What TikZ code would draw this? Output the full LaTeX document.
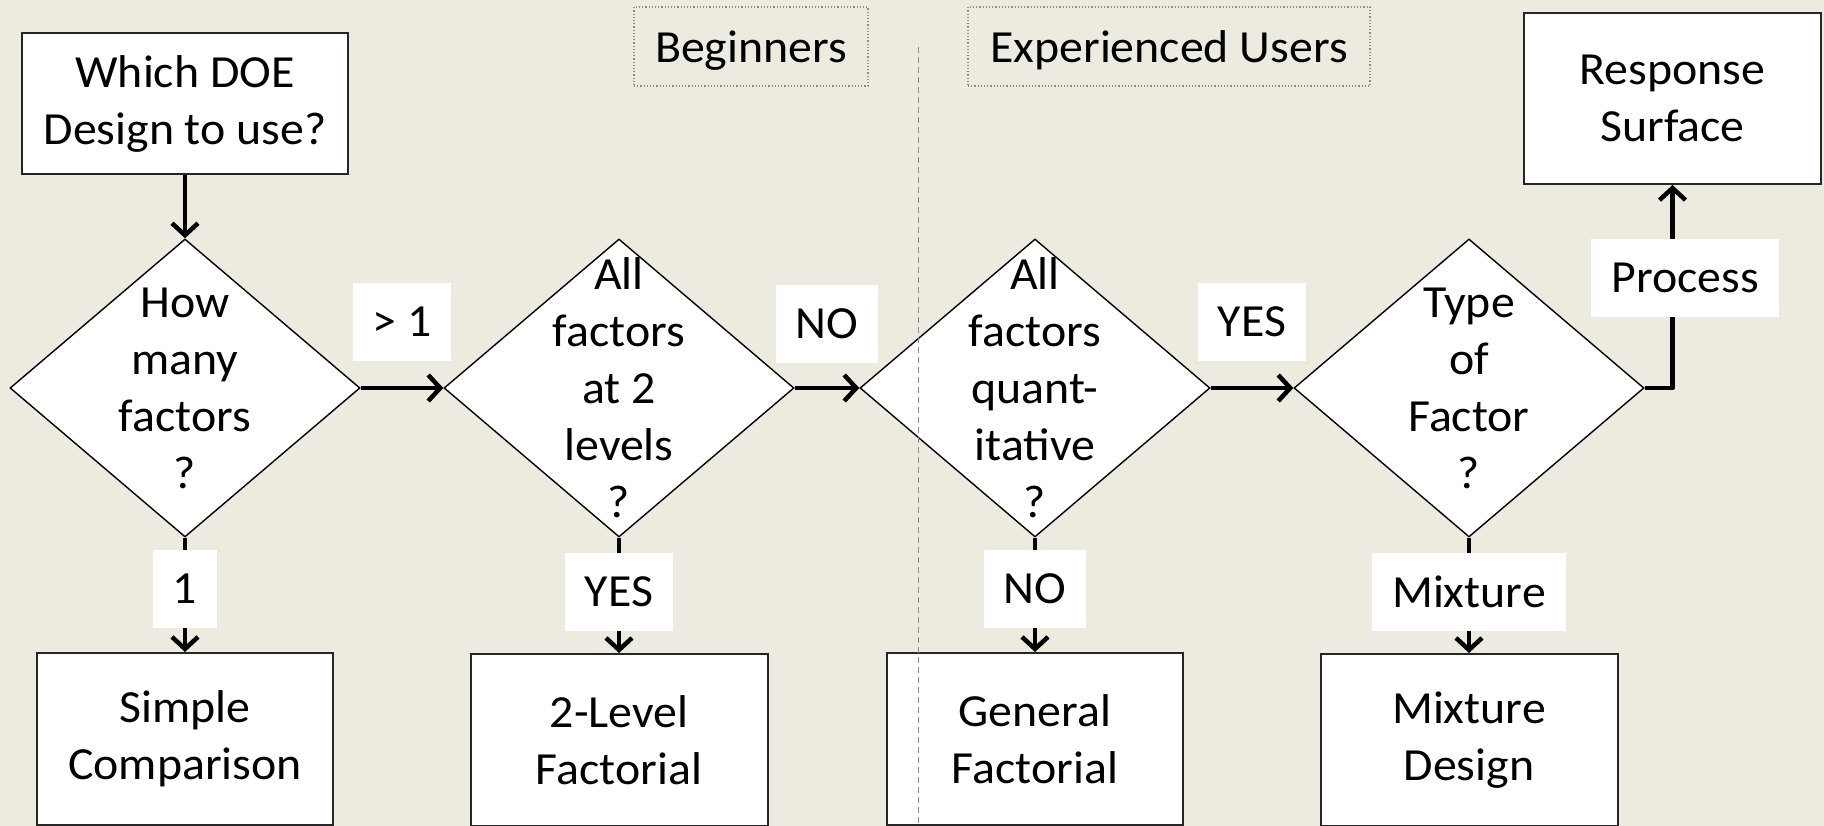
\documentclass[tikz,border=0pt]{standalone}
\usepackage{fontspec}
\setmainfont[FakeStretch=1.04]{Carlito}
\usetikzlibrary{shapes.geometric,arrows.meta}
\definecolor{paper}{RGB}{237,234,223}
\definecolor{rule}{RGB}{140,140,140}
\begin{document}
\begin{tikzpicture}[x=1pt,y=-1pt,
  every node/.style={font=\fontsize{46}{57}\selectfont},
  box/.style={draw=black!85,line width=2pt,fill=white,inner sep=0pt,align=center},
  decision/.style={diamond,draw=black,line width=1.4pt,fill=white,inner sep=0pt,
    minimum width=350pt,minimum height=298pt},
  dtext/.style={align=center,inner sep=0pt},
  lab/.style={fill=white,inner xsep=20pt,inner ysep=0pt,minimum height=78pt},
  group/.style={draw=rule,dotted,line width=1.2pt,minimum height=79pt,text depth=0pt},
  arr/.style={line width=4.5pt,line join=round,-{Straight Barb[length=12pt,width=26pt]}}]

% canvas
\fill[paper] (0,0) rectangle (1824,826);
\useasboundingbox (0,0) rectangle (1824,826);

% audience headings
\node[group,minimum width=234pt] (beg) at (751,46.5) {Beginners};
\node[group,minimum width=402pt] (exp) at (1169,46.5) {Experienced Users};

% start and end boxes
\node[box,minimum width=326pt,minimum height=141pt] (start) at (185,104) {Which DOE\\Design to use?};
\node[box,minimum width=297pt,minimum height=171pt] (rs) at (1672.5,98.5) {Response\\Surface};

% decisions
\node[decision,label={[dtext]center:How\\many\\factors\\?}] (d1) at (185,388) {};
\node[decision,label={[dtext]center:All\\factors\\at 2\\levels\\?}] (d2) at (619,388) {};
\node[decision,label={[dtext]center:All\\factors\\quant-\\itative\\?}] (d3) at (1035,388) {};
\node[decision,label={[dtext]center:Type\\of\\Factor\\?}] (d4) at (1469,388) {};

% outcomes
\node[box,minimum width=296pt,minimum height=172pt] (b1) at (185,739) {Simple\\Comparison};
\node[box,minimum width=297pt,minimum height=172pt] (b2) at (619,740) {2-Level\\Factorial};
\node[box,minimum width=296pt,minimum height=172pt] (b3) at (1035,739) {General\\Factorial};
\node[box,minimum width=297pt,minimum height=172pt] (b4) at (1469,740) {Mixture\\Design};

% flow
\draw[arr] (start.south) -- (d1.north);
\draw[arr] (d1.east) -- node[lab,anchor=south,yshift=25pt] {> 1} (d2.west);
\draw[arr] (d2.east) -- node[lab,anchor=south,yshift=23pt] {NO} (d3.west);
\draw[arr] (d3.east) -- node[lab,anchor=south,yshift=25pt] {YES} (d4.west);
\draw[arr] (d4.east) -| node[lab,pos=0.77,xshift=12.5pt] {Process} (rs.south);
\draw[arr] (d1.south) -- node[lab,pos=0.45] {1} (b1.north);
\draw[arr] (d2.south) -- node[lab,pos=0.47] {YES} (b2.north);
\draw[arr] (d3.south) -- node[lab,pos=0.45] {NO} (b3.north);
\draw[arr] (d4.south) -- node[lab,pos=0.47] {Mixture} (b4.north);

% divider between the two audiences, laid over the chart
\draw[rule,line width=1pt,dash pattern=on 6pt off 4pt] (918.5,47) -- (918.5,826);
\end{tikzpicture}
\end{document}
